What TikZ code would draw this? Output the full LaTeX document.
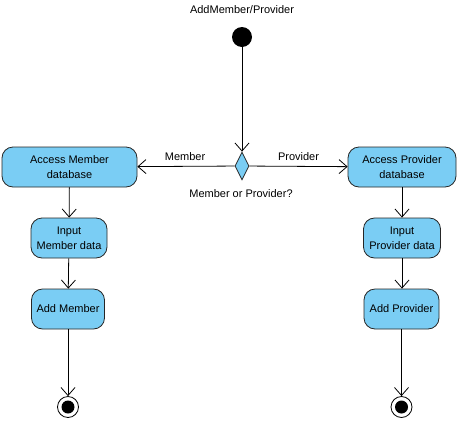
\documentclass[tikz,border=0pt]{standalone}
\usepackage{fontspec}
\setmainfont{Liberation Sans}
\usetikzlibrary{arrows.meta,shapes.geometric}
\definecolor{actblue}{HTML}{7ACDF4}

\begin{document}
\begin{tikzpicture}[x=1pt,y=-1pt,font=\fontsize{11}{15}\selectfont]
	 \tikzstyle{action}=[rectangle,rounded corners=11pt,draw=black!85,thick,fill=actblue,align=center,minimum height=40pt,inner sep=2pt]
	 \tikzstyle{decision}=[diamond,draw=black!85,thick,fill=actblue,minimum width=14pt,minimum height=28pt,inner sep=0pt]
	 \tikzstyle{start}=[circle,fill=black,minimum size=20pt,inner sep=0pt]
	 \tikzstyle{final}=[circle,draw=black,thick,fill=white,minimum size=21pt,inner sep=0pt,
	   path picture={\fill[black] (path picture bounding box.center) circle (6.5pt);}]
	 \tikzstyle{flow} = [draw,line width=0.8pt,-{Straight Barb[length=8pt,width=14pt]},black]

	\useasboundingbox (0,0) rectangle (458,437);

	\node (title) at (242,10) {AddMember/Provider};
	\node[start] (s0) at (242,37) {};
	\node[decision] (d0) at (242,166) {};
	\node (q0) at (241,194) {Member or Provider?};

	\node[action,minimum width=135pt] (m1) at (69.5,167) {Access Member\\database};
	\node[action,minimum width=76pt] (m2) at (69,238) {Input\\Member data};
	\node[action,minimum width=73pt] (m3) at (68,309) {Add Member};
	\node[final] (mf) at (68,407) {};

	\node[action,minimum width=108pt] (p1) at (402,167) {Access Provider\\database};
	\node[action,minimum width=77pt] (p2) at (402,238) {Input\\Provider data};
	\node[action,minimum width=75pt] (p3) at (401.5,309) {Add Provider};
	\node[final] (pf) at (401.5,407) {};

	\draw[flow] (s0) -- (d0);
	\draw[flow] (d0) -- node[above=2pt,pos=0.51] {Member} (m1);
	\draw[flow] (d0) -- node[above=2pt,pos=0.5] {Provider} (p1);
	\draw[flow] (m1) -- (m2);
	\draw[flow] (m2) -- (m3);
	\draw[flow] (m3) -- (mf);
	\draw[flow] (p1.south -| p2) -- (p2);
	\draw[flow] (p2) -- (p3.north -| p2);
	\draw[flow] (p3) -- (pf);
 \end{tikzpicture}
\end{document}
